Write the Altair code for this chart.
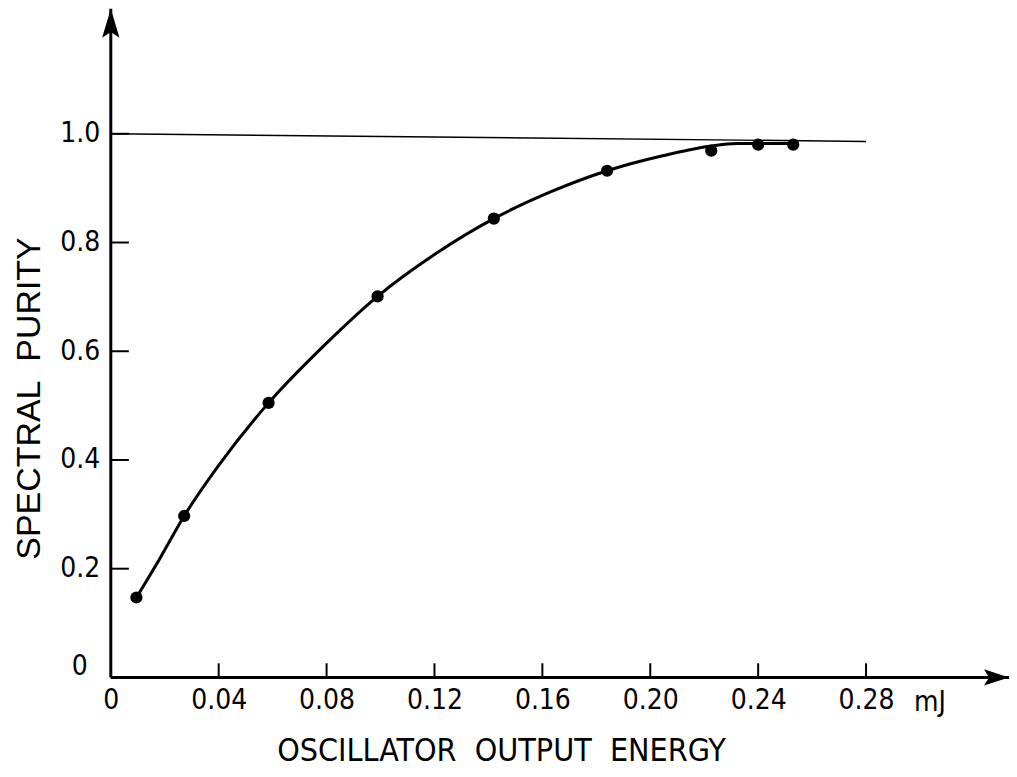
import altair as alt
import pandas as pd

# measured data points
x_pts = [0.0095, 0.0272, 0.0585, 0.0989, 0.1420, 0.1840, 0.2226, 0.2400, 0.2530]
y_pts = [0.147, 0.297, 0.505, 0.701, 0.844, 0.932, 0.969, 0.980, 0.980]

# hand-drawn fitted curve
curve_x = [0.0095, 0.0181, 0.0272, 0.0400, 0.0585, 0.0800, 0.0989, 0.1200, 0.1420,
           0.1630, 0.1840, 0.2050, 0.2220, 0.2320, 0.2530]
curve_y = [0.147, 0.218, 0.297, 0.390, 0.505, 0.615, 0.701, 0.778, 0.844,
           0.893, 0.932, 0.960, 0.977, 0.982, 0.982]

# reference line at purity 1.0
ref_x = [0.0, 0.28]
ref_y = [1.0, 0.986]

x_ticks = [0.04, 0.08, 0.12, 0.16, 0.20, 0.24, 0.28]
x_labels = [0.0] + x_ticks
y_ticks = [0.2, 0.4, 0.6, 0.8, 1.0]

X_MAX = 0.333
Y_MAX = 1.23
XT_LEN = 0.026   # x tick length in y units
YT_LEN = 0.0067  # y tick length in x units

LABEL_FONT = "DejaVu Sans Condensed, Liberation Sans Narrow, sans-serif"
LABEL_SIZE = 28

xs = alt.Scale(domain=[0, X_MAX], nice=False, zero=False)
ys = alt.Scale(domain=[0, Y_MAX], nice=False, zero=False)

pts = pd.DataFrame({"x": x_pts, "y": y_pts})
crv = pd.DataFrame({"x": curve_x, "y": curve_y, "o": list(range(len(curve_x)))})
ref = pd.DataFrame({"x": ref_x, "y": ref_y})
xt = pd.DataFrame({"v": x_ticks})
yt = pd.DataFrame({"v": y_ticks})
axes_df = pd.DataFrame({"x": [0.0, 0.0], "y": [0.0, 0.0], "x2": [X_MAX, 0.0], "y2": [0.0, Y_MAX]})

x_axis = alt.Axis(values=x_labels, labelExpr="datum.value == 0 ? '0' : format(datum.value, '.2f')",
                  domain=False, ticks=False, grid=False, labelFont=LABEL_FONT,
                  labelFontSize=LABEL_SIZE, labelColor="black", labelPadding=9,
                  labelFlush=False, labelOverlap=False,
                  title="OSCILLATOR\u00a0 OUTPUT\u00a0 ENERGY", titleFont=LABEL_FONT,
                  titleFontSize=32, titleFontWeight="normal", titleColor="black",
                  titleX=391, titleY=83, titleBaseline="alphabetic", titleAlign="center")
y_axis = alt.Axis(values=y_ticks, format=".1f", domain=False, ticks=False, grid=False,
                  labelFont=LABEL_FONT, labelFontSize=LABEL_SIZE, labelColor="black",
                  labelPadding=11, labelFlush=False, labelOverlap=False,
                  title="SPECTRAL\u00a0 PURITY", titleFont="Liberation Sans, Arial, sans-serif",
                  titleFontSize=34, titleFontWeight="normal", titleColor="black",
                  titleX=-81, titleY=390, titleBaseline="middle", titleAlign="center", titleAngle=270)


def X(field):
    return alt.X(field, type="quantitative", scale=xs, axis=x_axis)


def Y(field):
    return alt.Y(field, type="quantitative", scale=ys, axis=y_axis)


curve = alt.Chart(crv).mark_line(color="black", strokeWidth=3, interpolate="monotone").encode(
    x=X("x"), y=Y("y"), order="o:Q",
)

axis_lines = alt.Chart(axes_df).mark_rule(color="black", strokeWidth=3).encode(
    x=X("x"), y=Y("y"), x2="x2:Q", y2="y2:Q",
)

xticks = alt.Chart(xt).transform_calculate(y0="0", y1=str(XT_LEN)).mark_rule(
    color="black", strokeWidth=2).encode(
    x=X("v"), y=Y("y0"), y2="y1:Q",
)

yticks = alt.Chart(yt).transform_calculate(x0="0", x1=str(YT_LEN)).mark_rule(
    color="black", strokeWidth=2).encode(
    y=Y("v"), x=X("x0"), x2="x1:Q",
)

refline = alt.Chart(ref).mark_line(color="black", strokeWidth=1.5).encode(
    x=X("x"), y=Y("y"),
)

dots = alt.Chart(pts).mark_circle(color="black", opacity=1, size=150).encode(
    x=X("x"), y=Y("y"),
)

arrow_up = alt.Chart(pd.DataFrame({"x": [0.0], "y": [Y_MAX]})).mark_point(
    shape="M0,0 L0.6,2 L0,1.6 L-0.6,2 Z", size=841, filled=True, color="black", opacity=1).encode(
    x=X("x"), y=Y("y"),
)

arrow_right = alt.Chart(pd.DataFrame({"x": [X_MAX], "y": [0.0]})).mark_point(
    shape="M0,0 L-2,-0.65 L-1.6,0 L-2,0.65 Z", size=625, filled=True, color="black", opacity=1).encode(
    x=X("x"), y=Y("y"),
)

unit_txt = alt.Chart(pd.DataFrame({"x": [0.28], "y": [0.0], "t": ["mJ"]})).mark_text(
    font=LABEL_FONT, fontSize=LABEL_SIZE, color="black", align="left", baseline="top",
    dx=48, dy=12).encode(
    x=X("x"), y=Y("y"), text="t:N",
)

zero_txt = alt.Chart(pd.DataFrame({"x": [0.0], "y": [0.0], "t": ["0"]})).mark_text(
    font=LABEL_FONT, fontSize=LABEL_SIZE, color="black", align="right", baseline="middle",
    dx=-23, dy=-10).encode(
    x=X("x"), y=Y("y"), text="t:N",
)

chart = alt.layer(curve, axis_lines, xticks, yticks, refline, dots, arrow_up, arrow_right,
                  unit_txt, zero_txt).properties(
    width=900, height=670,
    autosize=alt.AutoSizeParams(type="none"),
    padding={"left": 103, "top": 0, "right": 0, "bottom": 91},
    background="white",
).configure_view(stroke=None)

chart.save("out.html", embed_options={"renderer": "svg", "actions": False})
